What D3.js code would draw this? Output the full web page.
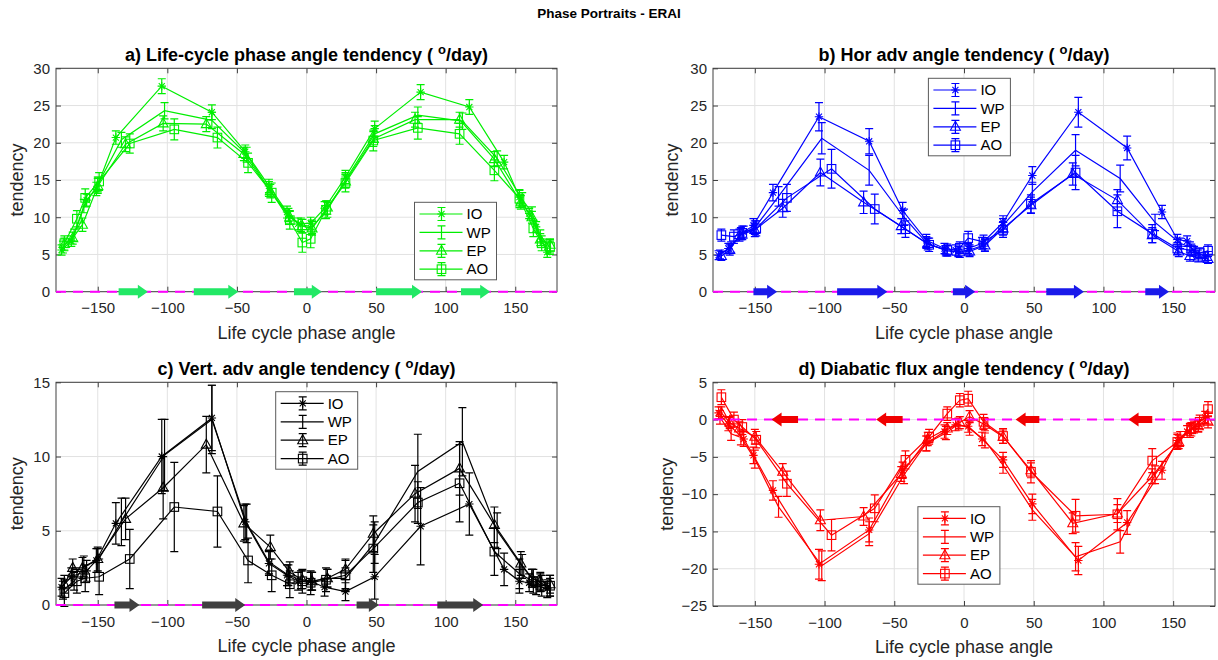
<!DOCTYPE html>
<html lang="en">
<head>
<meta charset="UTF-8">
<title>Phase Portraits - ERAI</title>
<script src="https://cdn.jsdelivr.net/npm/d3@7"></script>
<style>
  body { margin: 0; background: #fff; }
  svg { display: block; font-family: "Liberation Sans", Arial, sans-serif; }
</style>
</head>
<body>
<script>
// phase angle of each composite bin, per basin (same bins in all four panels)
const phaseIO = [-176, -169, -158, -151, -137, -104, -68, -44, -27, -14, -6, 3, 13, 28, 49, 82, 117, 142, 153, 160, 165, 173];
const phaseWP = [-175, -167, -160, -150, -133, -102, -68, -43, -27, -13, -4, 4, 15, 28, 49, 80, 112, 137, 155, 162, 168, 175];
const phaseEP = [-174, -168, -161, -150, -130, -103, -72, -45, -26, -12, -3, 4, 15, 28, 48, 78, 110, 135, 154, 162, 168, 175];
const phaseAO = [-174, -165, -159, -149, -127, -95, -64, -42, -25, -12, -3, 3, 14, 28, 48, 80, 110, 135, 153, 163, 169, 175];

// a) life-cycle phase angle tendency
const lcIO = [5.6, 6.8, 12.3, 13.8, 20.7, 27.6, 24.1, 18.8, 14.2, 10.7, 9.1, 9.2, 11.2, 15.4, 21.9, 26.8, 24.8, 17.4, 12.7, 10.5, 8.7, 5.3];
const lcWP = [6.0, 7.6, 11.5, 14.4, 20.4, 24.3, 23.0, 18.4, 13.8, 10.3, 9.0, 8.7, 11.0, 15.0, 21.2, 23.7, 22.9, 17.9, 12.4, 10.6, 7.5, 6.0];
const lcEP = [6.4, 7.2, 9.0, 14.2, 19.8, 22.6, 22.5, 18.5, 13.5, 10.0, 8.8, 8.5, 11.3, 14.8, 20.5, 23.1, 23.1, 17.8, 12.0, 10.0, 7.0, 6.3];
const lcAO = [6.5, 9.8, 12.6, 14.8, 19.9, 21.8, 20.7, 17.3, 13.3, 9.6, 6.6, 7.1, 11.0, 14.6, 20.3, 22.0, 21.2, 16.3, 12.5, 8.5, 6.5, 6.0];
const lcIOErr = [0.7, 0.7, 0.8, 0.9, 0.9, 1.0, 1.0, 0.9, 0.9, 0.8, 0.8, 0.8, 0.9, 0.9, 1.0, 1.0, 1.0, 0.9, 0.9, 0.7, 0.7, 0.7];
const lcWPErr = [0.8, 0.8, 0.9, 1.0, 1.0, 1.1, 1.1, 1.0, 1.0, 0.9, 0.9, 0.9, 1.0, 1.0, 1.1, 1.1, 1.1, 1.0, 0.9, 0.8, 0.8, 0.8];
const lcEPErr = [0.8, 0.8, 0.9, 1.0, 1.0, 1.0, 1.0, 0.9, 0.9, 0.9, 0.9, 0.9, 0.9, 0.9, 1.0, 1.0, 1.0, 1.0, 0.9, 0.8, 0.8, 0.8];
const lcAOErr = [1.0, 1.1, 1.2, 1.2, 1.3, 1.4, 1.4, 1.3, 1.3, 1.2, 1.3, 1.2, 1.2, 1.2, 1.4, 1.5, 1.4, 1.4, 1.2, 1.1, 1.0, 1.0];

// b) horizontal advection
const haIO = [4.9, 5.8, 8.0, 8.9, 13.3, 23.5, 20.2, 10.9, 6.9, 5.8, 5.6, 5.8, 6.5, 9.3, 15.6, 24.1, 19.3, 10.7, 7.0, 6.8, 5.5, 4.7];
const haWP = [5.0, 6.0, 7.8, 8.6, 12.8, 20.6, 16.3, 10.0, 6.6, 5.5, 5.4, 5.6, 6.3, 8.9, 13.4, 19.0, 15.2, 9.3, 6.5, 6.0, 5.0, 4.8];
const haEP = [4.8, 5.6, 7.6, 8.3, 11.2, 16.0, 12.0, 8.8, 6.4, 5.5, 5.3, 5.4, 6.2, 8.5, 11.6, 15.8, 12.3, 7.6, 5.4, 4.8, 4.6, 4.4];
const haAO = [7.6, 7.4, 7.9, 8.5, 12.6, 16.5, 11.1, 8.4, 6.3, 5.6, 5.9, 7.2, 6.7, 8.3, 11.8, 16.0, 10.8, 7.8, 5.8, 5.6, 5.2, 5.5];
const haIOErr = [0.6, 0.7, 0.8, 0.9, 1.1, 1.9, 1.7, 1.1, 0.8, 0.7, 0.7, 0.7, 0.8, 0.9, 1.2, 2.0, 1.6, 0.9, 0.7, 0.7, 0.6, 0.6];
const haWPErr = [0.6, 0.7, 0.8, 0.9, 1.3, 2.1, 2.0, 1.1, 0.8, 0.7, 0.7, 0.7, 0.8, 0.9, 1.3, 2.1, 1.8, 1.1, 0.7, 0.7, 0.6, 0.6];
const haEPErr = [0.6, 0.7, 0.8, 0.9, 1.2, 1.8, 1.5, 1.0, 0.8, 0.7, 0.7, 0.7, 0.8, 0.9, 1.1, 1.5, 1.4, 1.0, 0.7, 0.7, 0.6, 0.6];
const haAOErr = [0.8, 0.9, 0.9, 1.0, 1.8, 2.6, 2.0, 1.1, 0.9, 0.8, 0.8, 0.9, 0.9, 1.0, 1.2, 2.3, 2.2, 1.2, 0.8, 0.8, 0.7, 0.8];

// c) vertical advection
const vaIO = [1.2, 1.9, 2.3, 3.0, 5.5, 10.0, 12.6, 5.6, 2.8, 2.0, 1.6, 1.6, 1.2, 0.9, 1.9, 5.3, 6.8, 2.4, 1.6, 1.5, 1.3, 1.1];
const vaWP = [1.0, 1.6, 2.6, 3.0, 5.6, 10.1, 12.5, 5.5, 2.9, 2.0, 1.7, 1.6, 1.8, 1.8, 4.2, 9.0, 11.0, 5.0, 2.6, 1.8, 1.5, 1.2];
const vaEP = [1.4, 2.5, 2.5, 3.1, 5.8, 7.9, 10.8, 5.5, 3.9, 2.2, 1.7, 1.6, 1.8, 2.4, 4.8, 7.5, 9.2, 5.4, 2.8, 1.8, 1.6, 1.4];
const vaAO = [0.8, 1.6, 1.8, 1.9, 3.1, 6.6, 6.3, 3.0, 2.0, 1.4, 1.6, 1.5, 1.7, 2.0, 3.8, 6.9, 8.2, 3.6, 2.1, 1.6, 1.3, 1.3];
const vaIOErr = [0.6, 0.6, 0.7, 0.8, 1.4, 2.5, 2.2, 1.2, 0.8, 0.7, 0.6, 0.6, 0.6, 0.6, 1.5, 2.6, 2.1, 1.1, 0.8, 0.6, 0.6, 0.6];
const vaWPErr = [0.6, 0.6, 0.7, 0.8, 1.6, 2.4, 2.3, 1.3, 0.8, 0.7, 0.6, 0.6, 0.6, 0.7, 1.4, 2.5, 2.3, 1.2, 0.8, 0.6, 0.6, 0.6];
const vaEPErr = [0.6, 0.6, 0.7, 0.8, 1.4, 2.1, 1.9, 1.2, 0.8, 0.7, 0.6, 0.6, 0.6, 0.7, 1.2, 1.9, 1.8, 1.2, 0.8, 0.6, 0.6, 0.6];
const vaAOErr = [0.9, 0.8, 0.9, 1.2, 2.0, 3.0, 2.4, 1.5, 1.1, 0.9, 0.8, 0.8, 0.8, 1.0, 1.6, 1.4, 2.6, 1.6, 1.0, 0.8, 0.7, 0.7];

// d) diabatic flux
const dfIO = [0.9, -0.6, -2.6, -4.8, -9.5, -19.4, -14.8, -6.8, -3.2, -1.6, -0.7, -0.9, -2.6, -5.4, -11.3, -18.9, -13.8, -6.8, -2.8, -1.6, -1.0, 0.3];
const dfWP = [0.3, -1.9, -2.4, -5.3, -11.7, -19.6, -15.3, -7.4, -3.2, -1.8, -0.6, -1.2, -2.8, -6.1, -12.1, -18.4, -16.4, -7.4, -2.6, -1.5, -0.8, 0.2];
const dfEP = [0.9, -0.4, -1.2, -2.3, -7.0, -13.5, -13.0, -7.3, -2.6, -1.2, -0.4, 0.4, -0.7, -2.3, -6.8, -13.9, -12.6, -7.6, -3.0, -1.3, -0.9, -0.3];
const dfAO = [3.0, 0.0, -1.0, -2.7, -8.6, -15.5, -11.9, -5.4, -2.3, 0.8, 2.6, 2.8, -0.3, -2.2, -7.0, -12.9, -12.7, -5.5, -3.0, -1.3, -0.3, 1.4];
const dfIOErr = [0.8, 0.9, 1.0, 1.1, 1.3, 2.0, 1.6, 1.1, 1.0, 0.9, 0.8, 0.8, 0.9, 1.0, 1.3, 1.9, 1.6, 1.2, 1.0, 0.8, 0.8, 0.8];
const dfWPErr = [0.9, 0.9, 1.0, 1.2, 1.4, 2.0, 1.6, 1.2, 1.0, 0.9, 0.8, 0.9, 1.0, 1.1, 1.4, 1.9, 1.5, 1.2, 1.0, 0.9, 0.8, 0.8];
const dfEPErr = [0.8, 0.8, 0.9, 1.0, 1.1, 1.4, 1.2, 1.0, 0.9, 0.8, 0.8, 0.8, 0.8, 0.9, 1.0, 1.4, 1.2, 1.0, 0.9, 0.8, 0.8, 0.8];
const dfAOErr = [1.0, 1.0, 1.0, 1.1, 1.7, 2.1, 1.8, 1.2, 1.0, 0.9, 0.9, 1.0, 1.0, 1.0, 1.5, 2.2, 2.1, 1.6, 1.0, 0.9, 0.9, 1.0];

// direction arrows on the zero line: [from, to] phase angle
const arrowsA = [[-135, -114], [-81, -49], [-9, 11], [50, 83], [111, 132]];
const arrowsB = [[-151, -134], [-91, -55], [-8, 8], [59, 86], [130, 147]];
const arrowsC = [[-138, -120], [-75, -44], [36, 52], [94, 127]];
const arrowsD = [[-119, -138], [-44, -63], [54, 37], [135, 118]];

const xTicks = [-150, -100, -50, 0, 50, 100, 150];
const yTicksAB = [0, 5, 10, 15, 20, 25, 30];
const yTicksC = [0, 5, 10, 15];
const yTicksD = [-25, -20, -15, -10, -5, 0, 5];
const basins = ["IO", "WP", "EP", "AO"];

const phases = { IO: phaseIO, WP: phaseWP, EP: phaseEP, AO: phaseAO };
const markerOf = { IO: "star", WP: "none", EP: "tri", AO: "square" };

const panels = [
  { title: "a) Life-cycle phase angle tendency ( ", left: 56, right: 557, top: 68.3, bottom: 291.7,
    yDomain: [0, 30], yTicks: yTicksAB, color: "#00ee00", arrowColor: "#22e865",
    vals: { IO: lcIO, WP: lcWP, EP: lcEP, AO: lcAO }, errs: { IO: lcIOErr, WP: lcWPErr, EP: lcEPErr, AO: lcAOErr },
    arrows: arrowsA, legend: [414.5, 202.3], ylabX: 18 },
  { title: "b) Hor adv angle tendency ( ", left: 713, right: 1215, top: 68.3, bottom: 291.7,
    yDomain: [0, 30], yTicks: yTicksAB, color: "#0000ff", arrowColor: "#1a1aea",
    vals: { IO: haIO, WP: haWP, EP: haEP, AO: haAO }, errs: { IO: haIOErr, WP: haWPErr, EP: haEPErr, AO: haAOErr },
    arrows: arrowsB, legend: [928.4, 78.3], ylabX: 673 },
  { title: "c) Vert. adv angle tendency ( ", left: 56, right: 557, top: 382.3, bottom: 605,
    yDomain: [0, 15], yTicks: yTicksC, color: "#000000", arrowColor: "#404040",
    vals: { IO: vaIO, WP: vaWP, EP: vaEP, AO: vaAO }, errs: { IO: vaIOErr, WP: vaWPErr, EP: vaEPErr, AO: vaAOErr },
    arrows: arrowsC, legend: [275.7, 391.7], ylabX: 18 },
  { title: "d) Diabatic flux angle tendency ( ", left: 713, right: 1215, top: 382.3, bottom: 606,
    yDomain: [-25, 5], yTicks: yTicksD, color: "#ff0000", arrowColor: "#f00000",
    vals: { IO: dfIO, WP: dfWP, EP: dfEP, AO: dfAO }, errs: { IO: dfIOErr, WP: dfWPErr, EP: dfEPErr, AO: dfAOErr },
    arrows: arrowsD, legend: [917.9, 506.7], ylabX: 668 }
];

const svg = d3.select("body").append("svg").attr("width", 1218).attr("height", 660);

svg.append("text").attr("x", 609).attr("y", 18).attr("text-anchor", "middle")
  .attr("font-size", 13.5).attr("font-weight", "bold").attr("fill", "#000")
  .text("Phase Portraits - ERAI");

function drawMarker(g, type, cx, cy, color) {
  if (type === "star") {
    const r = 4.2, d = r * 0.72;
    g.append("path")
      .attr("d", `M${cx - r},${cy}H${cx + r}M${cx},${cy - r}V${cy + r}M${cx - d},${cy - d}L${cx + d},${cy + d}M${cx - d},${cy + d}L${cx + d},${cy - d}`)
      .attr("stroke", color).attr("stroke-width", 1.1).attr("fill", "none");
  } else if (type === "tri") {
    g.append("path").attr("d", `M${cx},${cy - 5.5}L${cx + 5},${cy + 3.5}L${cx - 5},${cy + 3.5}Z`)
      .attr("stroke", color).attr("stroke-width", 1.1).attr("fill", "none");
  } else if (type === "square") {
    g.append("rect").attr("x", cx - 4.3).attr("y", cy - 4.3).attr("width", 8.6).attr("height", 8.6)
      .attr("stroke", color).attr("stroke-width", 1.1).attr("fill", "none");
  }
}

function errBar(g, cx, ylo, yhi, color) {
  const c = 4;
  g.append("path")
    .attr("d", `M${cx},${ylo}V${yhi}M${cx - c},${ylo}H${cx + c}M${cx - c},${yhi}H${cx + c}`)
    .attr("stroke", color).attr("stroke-width", 1.2).attr("fill", "none");
}

function arrowPath(xs, xe, y) {
  const dir = Math.sign(xe - xs), sh = 7, hh = 14, hl = 10;
  const xh = xe - dir * hl;
  return `M${xs},${y - sh / 2}L${xh},${y - sh / 2}L${xh},${y - hh / 2}L${xe},${y}L${xh},${y + hh / 2}L${xh},${y + sh / 2}L${xs},${y + sh / 2}Z`;
}

function drawPanel(p) {
  const x = d3.scaleLinear().domain([-180, 180]).range([p.left, p.right]);
  const y = d3.scaleLinear().domain(p.yDomain).range([p.bottom, p.top]);
  const g = svg.append("g");
  const axisCol = "#404040";

  // grid
  g.append("g").selectAll("line").data(xTicks).join("line")
    .attr("x1", d => x(d)).attr("x2", d => x(d)).attr("y1", p.top).attr("y2", p.bottom)
    .attr("stroke", "#e2e2e2").attr("stroke-width", 1);
  g.append("g").selectAll("line").data(p.yTicks).join("line")
    .attr("x1", p.left).attr("x2", p.right).attr("y1", d => y(d)).attr("y2", d => y(d))
    .attr("stroke", "#e2e2e2").attr("stroke-width", 1);

  // axes
  const styleAxis = sel => {
    sel.selectAll(".domain").remove();
    sel.selectAll(".tick line").attr("stroke", axisCol);
    sel.selectAll(".tick text").attr("fill", "#262626").attr("font-size", 15)
      .attr("font-family", "'Liberation Sans', Arial, sans-serif");
  };
  g.append("g").attr("transform", `translate(0,${p.bottom})`)
    .call(d3.axisBottom(x).tickValues(xTicks).tickSizeInner(-5).tickSizeOuter(0).tickPadding(11))
    .call(styleAxis);
  g.append("g").attr("transform", `translate(0,${p.top})`)
    .call(d3.axisTop(x).tickValues(xTicks).tickSizeInner(-5).tickSizeOuter(0).tickFormat(""))
    .call(styleAxis);
  g.append("g").attr("transform", `translate(${p.left},0)`)
    .call(d3.axisLeft(y).tickValues(p.yTicks).tickSizeInner(-5).tickSizeOuter(0).tickPadding(6))
    .call(styleAxis);
  g.append("g").attr("transform", `translate(${p.right},0)`)
    .call(d3.axisRight(y).tickValues(p.yTicks).tickSizeInner(-5).tickSizeOuter(0).tickFormat(""))
    .call(styleAxis);
  g.append("rect").attr("x", p.left).attr("y", p.top)
    .attr("width", p.right - p.left).attr("height", p.bottom - p.top)
    .attr("fill", "none").attr("stroke", axisCol).attr("stroke-width", 1);

  // title with superscript degree
  const t = g.append("text").attr("x", (p.left + p.right) / 2).attr("y", p.top - 7)
    .attr("text-anchor", "middle").attr("font-size", 18).attr("font-weight", "bold").attr("fill", "#000");
  t.append("tspan").text(p.title);
  t.append("tspan").attr("dy", -7).attr("font-size", 13).text("o");
  t.append("tspan").attr("dy", 7).text("/day)");

  // axis labels
  g.append("text").attr("x", (p.left + p.right) / 2).attr("y", p.bottom + 47)
    .attr("text-anchor", "middle").attr("font-size", 18).attr("fill", "#262626")
    .text("Life cycle phase angle");
  g.append("text").attr("transform", `translate(${p.ylabX},${(p.top + p.bottom) / 2}) rotate(-90)`)
    .attr("text-anchor", "middle").attr("dy", "0.3em").attr("font-size", 18).attr("fill", "#262626")
    .text("tendency");

  // series
  const line = d3.line().x(d => x(d.ph)).y(d => y(d.v));
  basins.forEach(b => {
    const pts = phases[b].map((ph, i) => ({ ph, v: p.vals[b][i], e: p.errs[b][i] }));
    const sg = g.append("g");
    sg.append("path").datum(pts).attr("d", line)
      .attr("fill", "none").attr("stroke", p.color).attr("stroke-width", 1.2);
    pts.forEach(d => errBar(sg, x(d.ph), y(d.v - d.e), y(d.v + d.e), p.color));
    pts.forEach(d => drawMarker(sg, markerOf[b], x(d.ph), y(d.v), p.color));
  });

  // zero line and arrows
  g.append("line").attr("x1", p.left).attr("x2", p.right).attr("y1", y(0)).attr("y2", y(0))
    .attr("stroke", "#ff00ff").attr("stroke-width", 2).attr("stroke-dasharray", "10,7");
  g.append("g").selectAll("path").data(p.arrows).join("path")
    .attr("d", d => arrowPath(x(d[0]), x(d[1]), y(0)))
    .attr("fill", p.arrowColor);

  // legend
  const [lx, ly] = p.legend;
  const lg = g.append("g");
  lg.append("rect").attr("x", lx).attr("y", ly).attr("width", 82).attr("height", 77.5)
    .attr("fill", "#fff").attr("stroke", "#5a5a5a").attr("stroke-width", 1);
  basins.forEach((b, i) => {
    const ry = ly + 11.7 + i * 18.4, mx = lx + 27;
    lg.append("line").attr("x1", lx + 5).attr("x2", lx + 48).attr("y1", ry).attr("y2", ry)
      .attr("stroke", p.color).attr("stroke-width", 1.2);
    errBar(lg, mx, ry + 6.5, ry - 6.5, p.color);
    drawMarker(lg, markerOf[b], mx, ry, p.color);
    lg.append("text").attr("x", lx + 52).attr("y", ry).attr("dy", "0.35em")
      .attr("font-size", 15).attr("fill", "#000").text(b);
  });
}

panels.forEach(drawPanel);
</script>
</body>
</html>
